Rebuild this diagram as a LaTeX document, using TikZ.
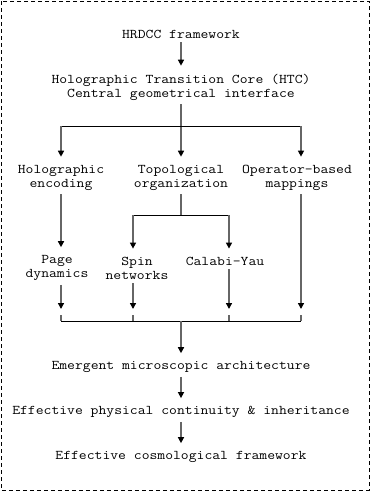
\documentclass[tikz,border=0pt]{standalone}
\usepackage{fontspec}
\setmonofont[FakeStretch=1.143]{Latin Modern Mono}
\usepackage{tikz}
\usetikzlibrary{arrows.meta}
\tikzset{
  term/.style={
    inner sep=0pt,
    align=center,
    font=\ttfamily\fontsize{13.33}{14}\selectfont
  },
  link/.style={
    draw=black!60,
    line width=1.4pt,
    shorten <=4pt
  },
  flow/.style={
    link,
    -{Triangle[length=6pt,width=6pt,color=black]},
    shorten >=8pt
  },
  bar/.style={
    draw=black,
    line width=0.8pt
  },
  frame/.style={
    draw=black,
    line width=0.8pt,
    dash pattern=on 4pt off 3pt
  }
}
\begin{document}
\begin{tikzpicture}[x=1pt, y=-1pt]
\useasboundingbox (0,0) rectangle (370,491);
\draw[frame] (1,1) rectangle (369,490);

\node[term] (hrdcc) at (181,34) {HRDCC framework};
\node[term] (htc) at (181,87) {Holographic Transition Core (HTC)\\Central geometrical interface};
\node[term] (holo) at (61,177.5) {Holographic\\encoding};
\node[term] (topo) at (181,177.5) {Topological\\organization};
\node[term] (oper) at (297,177.5) {Operator-based\\mappings};
\node[term] (page) at (57,268) {Page\\dynamics};
\node[term] (spin) at (137,268) {Spin\\networks};
\node[term] (calabi) at (225,261) {Calabi-Yau};
\node[term] (emerg) at (181,367) {Emergent microscopic architecture};
\node[term] (contin) at (181,412) {Effective physical continuity \& inheritance};
\node[term] (cosmo) at (181,457) {Effective cosmological framework};

% split, fork and merge points
\coordinate (sA) at (61,126);
\coordinate (sD) at (301,126);
\coordinate (fB) at (133,215);
\coordinate (fC) at (229,215);
\coordinate (mA) at (61,321);
\coordinate (mB) at (133,321);
\coordinate (mC) at (229,321);
\coordinate (mD) at (301,321);
\coordinate (merge) at (181,321);

\draw[flow] (hrdcc) -- (htc);
\draw[flow] (htc) -- (topo);
\draw[bar] (sA) -- (sD);
\draw[flow, shorten <=0pt] (sA) -- (sA |- holo.north);
\draw[flow, shorten <=0pt] (sD) -- (sD |- oper.north);

\draw[link] (topo) -- (topo |- fB);
\draw[bar] (fB) -- (fC);
\draw[flow, shorten <=0pt] (fB) -- (fB |- spin.north);
\draw[flow, shorten <=0pt] (fC) -- (fC |- calabi.north);
\draw[flow] (sA |- holo.south) -- (sA |- page.north);

\draw[bar] (mA) -- (mD);
\foreach \src/\m in {page/mA, spin/mB, calabi/mC, oper/mD} {
  \draw[flow, shorten >=12pt] (\m |- \src.south) -- (\m);
  \draw[link, shorten <=0pt] ([yshift=6pt]\m) -- (\m);
}
\draw[flow, shorten <=0pt] (merge) -- (emerg);
\draw[flow] (emerg) -- (contin);
\draw[flow] (contin) -- (cosmo);
\end{tikzpicture}
\end{document}
